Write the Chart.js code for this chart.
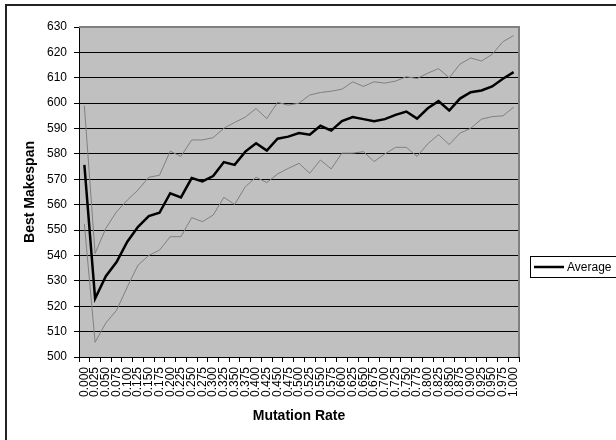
<!DOCTYPE html>
<html>
<head>
<meta charset="utf-8">
<script src="https://cdn.jsdelivr.net/npm/chart.js@4/dist/chart.umd.min.js"></script>
<style>
  html, body { margin: 0; padding: 0; background: #fff; }
  #wrap { width: 616px; height: 440px; }
</style>
</head>
<body>
<div id="wrap"><canvas id="c" width="616" height="440"></canvas></div>
<script>
// Mutation rates 0.000 .. 1.000
const rates = ["0.000","0.025","0.050","0.075","0.100","0.125","0.150","0.175","0.200","0.225",
  "0.250","0.275","0.300","0.325","0.350","0.375","0.400","0.425","0.450","0.475",
  "0.500","0.525","0.550","0.575","0.600","0.625","0.650","0.675","0.700","0.725",
  "0.750","0.775","0.800","0.825","0.850","0.875","0.900","0.925","0.950","0.975","1.000"];

// Average best makespan per mutation rate
const average = [575.7, 523.0, 531.8, 537.4, 545.4, 551.3, 555.5, 556.8, 564.5, 562.9,
  570.5, 569.2, 571.3, 576.8, 575.7, 580.9, 584.2, 581.3, 586.0, 586.8,
  588.2, 587.6, 591.1, 589.2, 592.9, 594.5, 593.7, 592.9, 593.7, 595.4,
  596.7, 593.9, 598.0, 600.8, 597.1, 601.8, 604.3, 605.0, 606.6, 609.6, 612.2];

// Upper envelope of the runs
const upper = [599.0, 540.8, 550.7, 557.2, 561.8, 565.8, 570.8, 571.6, 581.1, 579.0,
  585.5, 585.5, 586.4, 590.1, 592.4, 594.5, 597.9, 593.9, 600.3, 599.2,
  600.0, 603.2, 604.2, 604.7, 605.5, 608.4, 606.6, 608.4, 607.9, 608.7,
  610.4, 609.7, 611.8, 613.6, 610.0, 615.4, 617.8, 616.6, 619.2, 624.2, 626.6];

// Lower envelope of the runs
const lower = [552.4, 505.8, 513.4, 518.4, 527.6, 536.2, 540.0, 542.1, 547.4, 547.4,
  554.9, 553.3, 555.9, 562.9, 560.1, 567.1, 570.8, 568.7, 572.1, 574.3,
  576.3, 572.4, 577.6, 574.1, 580.3, 580.3, 580.9, 577.0, 580.0, 582.6,
  582.6, 579.0, 584.0, 587.6, 583.7, 588.2, 590.1, 593.7, 594.7, 595.0, 598.4];

const yMin = 500, yMax = 630, yStep = 10;
const FONT = "'Liberation Sans', Arial, Helvetica, sans-serif";

// White chart area with its frame, grey plot area behind the grid
const frame = {
  id: 'frame',
  beforeDraw(chart) {
    const ctx = chart.ctx, a = chart.chartArea;
    ctx.save();
    ctx.fillStyle = '#ffffff';
    ctx.fillRect(0, 0, chart.width, chart.height);
    ctx.strokeStyle = '#222222';
    ctx.lineWidth = 2;
    ctx.strokeRect(6, 5, 700, 500);
    ctx.fillStyle = '#c0c0c0';
    ctx.fillRect(a.left, a.top, a.right - a.left, a.bottom - a.top);
    ctx.restore();
  },
  beforeDatasetsDraw(chart) {
    const ctx = chart.ctx, a = chart.chartArea;
    ctx.save();
    ctx.strokeStyle = '#808080';
    ctx.lineWidth = 2;
    ctx.beginPath();
    ctx.moveTo(a.left, a.top);
    ctx.lineTo(a.right, a.top);
    ctx.lineTo(a.right, a.bottom);
    ctx.stroke();
    ctx.restore();
  },
  afterDraw(chart) {
    // Legend box listing the averaged series only
    const ctx = chart.ctx;
    const ds = chart.data.datasets[0];
    const x = 530.5, y = 256.5, w = 100, h = 21;
    ctx.save();
    ctx.fillStyle = '#ffffff';
    ctx.fillRect(x, y, w, h);
    ctx.strokeStyle = '#000000';
    ctx.lineWidth = 1;
    ctx.strokeRect(x, y, w, h);
    ctx.strokeStyle = ds.borderColor;
    ctx.lineWidth = ds.borderWidth;
    ctx.beginPath();
    ctx.moveTo(534, y + h / 2);
    ctx.lineTo(564, y + h / 2);
    ctx.stroke();
    ctx.fillStyle = '#000000';
    ctx.font = '12px ' + FONT;
    ctx.textBaseline = 'middle';
    ctx.textAlign = 'left';
    ctx.fillText(ds.label, 567, y + h / 2 + 0.5);
    ctx.restore();
  }
};

new Chart(document.getElementById('c'), {
  type: 'line',
  data: {
    labels: rates,
    datasets: [
      { label: 'Average', data: average, borderColor: '#000000', borderWidth: 2.5, pointRadius: 0, tension: 0, order: 0 },
      { label: 'Upper', data: upper, borderColor: '#808080', borderWidth: 1, pointRadius: 0, tension: 0, order: 1 },
      { label: 'Lower', data: lower, borderColor: '#808080', borderWidth: 1, pointRadius: 0, tension: 0, order: 1 }
    ]
  },
  options: {
    responsive: false,
    animation: false,
    devicePixelRatio: 1,
    layout: { padding: { left: 0, top: 27, right: 97, bottom: 0 } },
    plugins: { legend: { display: false }, tooltip: { enabled: false } },
    scales: {
      x: {
        type: 'category',
        offset: true,
        afterFit(s) { s.height = 83; },
        grid: { display: true, drawOnChartArea: false, drawTicks: true, tickLength: 5, offset: true, color: '#000000', lineWidth: 1 },
        border: { display: true, color: '#000000', width: 1 },
        ticks: { autoSkip: false, maxRotation: 90, minRotation: 90, padding: 5, color: '#000000', font: { family: FONT, size: 12 } },
        title: { display: true, text: 'Mutation Rate', color: '#000000', font: { family: FONT, size: 14, weight: 'bold' }, padding: { top: 0, bottom: 15 } }
      },
      y: {
        min: yMin,
        max: yMax,
        afterFit(s) { s.width = 79; },
        grid: { color: '#000000', lineWidth: 1, drawTicks: true, tickLength: 5 },
        border: { display: true, color: '#000000', width: 1 },
        ticks: { stepSize: yStep, padding: 7, color: '#000000', font: { family: FONT, size: 12 } },
        title: { display: true, text: 'Best Makespan', color: '#000000', font: { family: FONT, size: 14, weight: 'bold' }, padding: { top: 22, bottom: 0 } }
      }
    }
  },
  plugins: [frame]
});
</script>
</body>
</html>
